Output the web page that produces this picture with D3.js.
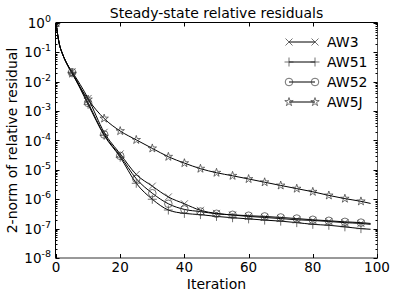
<!DOCTYPE html>
<html>
<head>
<meta charset="utf-8">
<script src="https://cdn.jsdelivr.net/npm/d3@7/dist/d3.min.js"></script>
<style>
  html, body { margin: 0; padding: 0; background: #fff; }
  svg { display: block; }
  text { font-family: "DejaVu Sans", sans-serif; fill: #000; }
</style>
</head>
<body>
<svg id="chart" width="399" height="299"></svg>
<script>
// ---------------- data ----------------
const iterations = [0, 1, 2, 3, 4, 5, 10, 15, 20, 25, 30, 35, 40, 45, 50, 55, 60, 65, 70, 75, 80, 85, 90, 95, 98];
const seriesNames = ["AW3", "AW51", "AW52", "AW5J"];
const AW3  = [1, 0.2, 0.09, 0.05, 0.032, 2.2e-2, 2.7e-3, 1.9e-4, 3.5e-5, 7.0e-6, 2.8e-6, 1.2e-6, 7.0e-7, 4.2e-7, 3.3e-7, 2.9e-7, 2.6e-7, 2.4e-7, 2.2e-7, 2.0e-7, 1.9e-7, 1.75e-7, 1.6e-7, 1.5e-7, 1.4e-7];
const AW51 = [1, 0.2, 0.09, 0.05, 0.031, 2.0e-2, 1.7e-3, 1.5e-4, 2.7e-5, 3.5e-6, 1.0e-6, 4.3e-7, 3.3e-7, 3.0e-7, 2.6e-7, 2.35e-7, 2.15e-7, 1.95e-7, 1.8e-7, 1.6e-7, 1.4e-7, 1.3e-7, 1.15e-7, 1.0e-7, 9.5e-8];
const AW52 = [1, 0.2, 0.09, 0.05, 0.031, 2.1e-2, 1.9e-3, 1.6e-4, 3.0e-5, 5.0e-6, 1.6e-6, 7.0e-7, 4.5e-7, 3.8e-7, 3.2e-7, 2.95e-7, 2.75e-7, 2.6e-7, 2.4e-7, 2.2e-7, 2.0e-7, 1.85e-7, 1.7e-7, 1.6e-7, 1.5e-7];
const AW5J = [1, 0.2, 0.09, 0.05, 0.03, 1.9e-2, 2.5e-3, 5.6e-4, 2.1e-4, 1.05e-4, 5.4e-5, 2.8e-5, 1.7e-5, 1.1e-5, 8.0e-6, 6.3e-6, 4.9e-6, 3.8e-6, 2.95e-6, 2.3e-6, 1.8e-6, 1.35e-6, 1.05e-6, 8.5e-7, 7.2e-7];
const seriesMarkers = ["x", "plus", "circle", "star"];
const xTicks = [0, 20, 40, 60, 80, 100];
const yTickExps = [0, -1, -2, -3, -4, -5, -6, -7, -8];
const titleText = "Steady-state relative residuals";
const xLabel = "Iteration";
const yLabel = "2-norm of relative residual";

// ---------------- layout ----------------
const svg = d3.select("#chart");
const L = 56, R = 377, T = 23, B = 258;
const x = d3.scaleLinear().domain([0, 100]).range([L, R]);
const y = d3.scaleLog().domain([1e-8, 1]).range([B, T]);

const seriesData = [AW3, AW51, AW52, AW5J];

svg.append("defs").append("clipPath").attr("id", "clip")
  .append("rect").attr("x", L).attr("y", T).attr("width", R - L).attr("height", B - T);

// ---------------- marker drawing ----------------
function drawMarker(g, type, cx, cy) {
  const st = "#333", sw = 0.7;
  if (type === "x") {
    const s = 3.5;
    g.append("path").attr("d", `M${cx - s},${cy - s}L${cx + s},${cy + s}M${cx - s},${cy + s}L${cx + s},${cy - s}`)
      .attr("stroke", st).attr("stroke-width", sw).attr("fill", "none");
  } else if (type === "plus") {
    const s = 4.5;
    g.append("path").attr("d", `M${cx - s},${cy}L${cx + s},${cy}M${cx},${cy - s}L${cx},${cy + s}`)
      .attr("stroke", st).attr("stroke-width", sw).attr("fill", "none");
  } else if (type === "circle") {
    g.append("circle").attr("cx", cx).attr("cy", cy).attr("r", 3.8)
      .attr("stroke", st).attr("stroke-width", sw).attr("fill", "none");
  } else if (type === "star") {
    g.append("path").attr("d", d3.symbol().type(d3.symbolStar).size(22)())
      .attr("transform", `translate(${cx},${cy})`)
      .attr("stroke", st).attr("stroke-width", sw).attr("fill", "none");
  }
}

// ---------------- series ----------------
const plotG = svg.append("g").attr("clip-path", "url(#clip)");
const line = d3.line().curve(d3.curveMonotoneX).x(d => x(d[0])).y(d => y(d[1]));

seriesData.forEach((vals, si) => {
  const pts = iterations.map((it, i) => [it, vals[i]]);
  plotG.append("path").datum(pts).attr("d", line)
    .attr("fill", "none").attr("stroke", "#000").attr("stroke-width", 1);
});
seriesData.forEach((vals, si) => {
  iterations.forEach((it, i) => {
    if (it % 5 === 0) drawMarker(plotG, seriesMarkers[si], x(it), y(vals[i]));
  });
});

// ---------------- frame & ticks ----------------
const axG = svg.append("g").attr("stroke", "#000").attr("stroke-width", 1).attr("fill", "none");
axG.append("line").attr("x1", L).attr("x2", R + 0.5).attr("y1", T - 0.5).attr("y2", T - 0.5);
axG.append("line").attr("x1", L - 0.5).attr("x2", L - 0.5).attr("y1", T - 0.5).attr("y2", B);
axG.append("line").attr("x1", L - 0.5).attr("x2", R + 0.5).attr("y1", B).attr("y2", B).attr("stroke", "#333");
axG.append("line").attr("x1", R + 0.5).attr("x2", R + 0.5).attr("y1", T - 0.5).attr("y2", B).attr("stroke", "#555");

xTicks.forEach(t => {
  const px = Math.round(x(t)) + 0.5;
  axG.append("line").attr("x1", px).attr("x2", px).attr("y1", B).attr("y2", B - 4);
  axG.append("line").attr("x1", px).attr("x2", px).attr("y1", T - 0.5).attr("y2", T + 3.5);
});

yTickExps.forEach(e => {
  const py = Math.round(y(Math.pow(10, e))) + 0.5;
  axG.append("line").attr("x1", L - 0.5).attr("x2", L + 3.5).attr("y1", py).attr("y2", py);
  axG.append("line").attr("x1", R + 0.5).attr("x2", R - 3.5).attr("y1", py).attr("y2", py);
  if (e > -8) {
    for (let m = 2; m <= 9; m++) {
      const v = m * Math.pow(10, e - 1);
      const pm = Math.round(y(v)) + 0.5;
      axG.append("line").attr("x1", L - 0.5).attr("x2", L + 1.5).attr("y1", pm).attr("y2", pm);
      axG.append("line").attr("x1", R + 0.5).attr("x2", R - 1.5).attr("y1", pm).attr("y2", pm);
    }
  }
});

// tick labels
xTicks.forEach(t => {
  svg.append("text").attr("x", x(t)).attr("y", 272).attr("text-anchor", "middle")
    .attr("font-size", 13.5).text(String(t));
});
yTickExps.forEach(e => {
  const t = svg.append("text").attr("x", 51).attr("y", y(Math.pow(10, e)) + 5)
    .attr("text-anchor", "end").attr("font-size", 13.5);
  t.append("tspan").text("10");
  t.append("tspan").attr("dy", -6).attr("font-size", 9.5).text(e === 0 ? "0" : "-" + Math.abs(e));
});

// title & labels
svg.append("text").attr("x", (L + R) / 2).attr("y", 18).attr("text-anchor", "middle")
  .attr("font-size", 14).text(titleText);
svg.append("text").attr("x", (L + R) / 2).attr("y", 289).attr("text-anchor", "middle")
  .attr("font-size", 14).text(xLabel);
svg.append("text").attr("transform", `translate(17,${(T + B) / 2}) rotate(-90)`)
  .attr("text-anchor", "middle").attr("font-size", 14).text(yLabel);

// ---------------- legend ----------------
const legY = [42, 62, 82, 102];
seriesNames.forEach((name, i) => {
  const g = svg.append("g");
  g.append("line").attr("x1", 289).attr("x2", 315).attr("y1", legY[i]).attr("y2", legY[i])
    .attr("stroke", "#000").attr("stroke-width", 1);
  drawMarker(g, seriesMarkers[i], 289, legY[i]);
  drawMarker(g, seriesMarkers[i], 315, legY[i]);
  g.append("text").attr("x", 327).attr("y", legY[i] + 5).attr("font-size", 14).text(name);
});
</script>
</body>
</html>
